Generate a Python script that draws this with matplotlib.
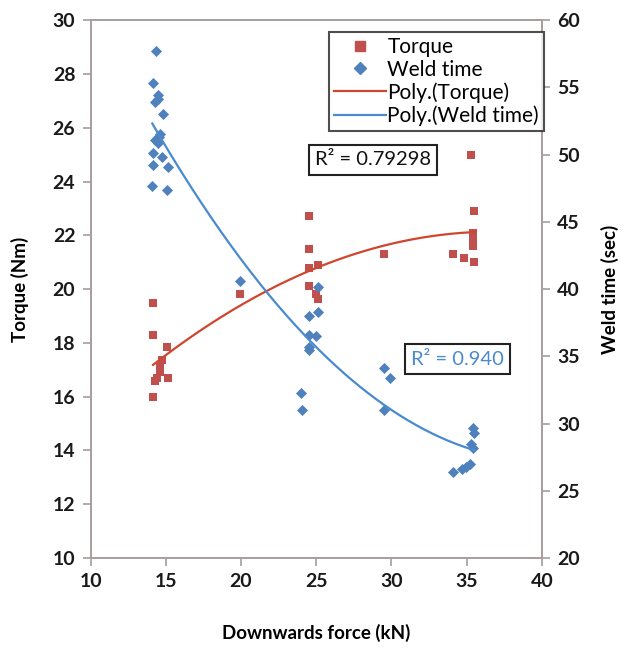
import numpy as np
import matplotlib
matplotlib.use("Agg")
import matplotlib.pyplot as plt
from matplotlib.lines import Line2D

plt.rcParams['font.family'] = ['Lato', 'DejaVu Sans']

# ---- data ----
force_torque = [14.15, 14.15, 15.1, 14.75, 14.6, 14.6, 14.4, 14.3, 15.15, 14.15,
                19.9,
                24.5, 24.5, 24.5, 25.1, 24.5, 25.0, 25.1,
                29.5,
                35.3, 35.5, 35.4, 35.4, 35.4, 34.1, 34.8, 35.5]
torque = [19.5, 18.3, 17.85, 17.35, 17.1, 16.9, 16.7, 16.6, 16.7, 16.0,
          19.8,
          22.7, 21.5, 20.8, 20.9, 20.1, 19.8, 19.65,
          21.3,
          25.0, 22.9, 22.1, 21.8, 21.6, 21.3, 21.15, 21.0]

force_weld = [14.35, 14.15, 14.5, 14.3, 14.45, 14.8, 14.6, 14.3, 14.55, 14.45,
              14.15, 14.75, 14.15, 15.15, 14.1, 15.1,
              19.9,
              25.1, 24.5, 25.1, 24.5, 25.0, 24.5, 24.55, 24.0, 24.05,
              29.5, 29.9, 29.5,
              35.4, 35.5, 35.3, 35.4, 35.25, 34.95, 34.7, 34.1]
weld_time = [57.7, 55.3, 54.4, 53.9, 54.1, 53.0, 51.5, 51.1, 51.3, 50.85,
             50.1, 49.8, 49.2, 49.1, 47.7, 47.4,
             40.6,
             40.15, 38.0, 38.3, 36.6, 36.5, 35.7, 35.5, 32.3, 31.0,
             34.1, 33.4, 31.0,
             29.7, 29.3, 28.5, 28.2, 27.0, 26.8, 26.65, 26.4]

x_ticks = [10, 15, 20, 25, 30, 35, 40]
torque_ticks = [10, 12, 14, 16, 18, 20, 22, 24, 26, 28, 30]
weld_ticks = [20, 25, 30, 35, 40, 45, 50, 55, 60]
r2_torque_label = "R² = 0.79298"
r2_weld_label = "R² = 0.940"

red = '#C0504D'
blue = '#4F81BD'
red_line = '#D0452E'
blue_line = '#4A8ACF'
spine_c = '#A89C9C'

fig = plt.figure(figsize=(6.25, 6.5), dpi=100)
ax = fig.add_axes([0.145, 0.1415, 0.722, 0.8275])
ax2 = ax.twinx()

ax.scatter(force_torque, torque, marker='s', s=38, color=red, zorder=3, linewidths=0)
ax2.scatter(force_weld, weld_time, marker='D', s=32, color=blue, zorder=3, linewidths=0)

pt = np.polyfit(force_torque, torque, 2)
xt = np.linspace(min(force_torque), max(force_torque), 200)
ax.plot(xt, np.polyval(pt, xt), color=red_line, lw=1.6, zorder=4)
pw = np.polyfit(force_weld, weld_time, 2)
xw = np.linspace(min(force_weld), max(force_weld), 200)
ax2.plot(xw, np.polyval(pw, xw), color=blue_line, lw=1.6, zorder=4)

ax.set_xlim(10, 40)
ax.set_ylim(10, 30)
ax2.set_ylim(20, 60)
ax.set_xticks(x_ticks)
ax.set_yticks(torque_ticks)
ax2.set_yticks(weld_ticks)

for a in (ax, ax2):
    for s in a.spines.values():
        s.set_color(spine_c)
        s.set_linewidth(1.2)
    a.tick_params(direction='out', length=6, width=1.2, color=spine_c,
                  labelsize=14, labelcolor='#1a1a1a', pad=5)
for lab in ax.get_xticklabels() + ax.get_yticklabels() + ax2.get_yticklabels():
    lab.set_fontweight('bold')

ax.set_xlabel("Downwards force (kN)", fontsize=13.5, fontweight='bold', labelpad=24)
ax.set_ylabel("Torque (Nm)", fontsize=13.5, fontweight='bold', labelpad=17)
ax2.set_ylabel("Weld time (sec)", fontsize=13.5, fontweight='bold', labelpad=15)

ax.text(0.626, 0.740, r2_torque_label, transform=ax.transAxes, fontsize=14.5,
        color='#111111', ha='center', va='center', zorder=6,
        bbox=dict(boxstyle='square,pad=0.3', fc='white', ec='#222222', lw=1.5))
ax.text(0.812, 0.370, r2_weld_label, transform=ax.transAxes, fontsize=14.5,
        color=blue_line, ha='center', va='center', zorder=6,
        bbox=dict(boxstyle='square,pad=0.3', fc='white', ec='#222222', lw=1.5))

handles = [Line2D([], [], marker='s', ls='none', color=red, markersize=7),
           Line2D([], [], marker='D', ls='none', color=blue, markersize=6),
           Line2D([], [], color=red_line, lw=1.6),
           Line2D([], [], color=blue_line, lw=1.6)]
labels = ["Torque", "Weld time", "Poly.(Torque)", "Poly.(Weld time)"]
leg = ax2.legend(handles, labels, loc='upper right', bbox_to_anchor=(1.005, 0.978),
                 fontsize=15, frameon=True, fancybox=False, borderpad=0.25,
                 labelspacing=0.12, handlelength=2.5, handletextpad=0.05,
                 borderaxespad=0.0)
leg.get_frame().set_edgecolor('#222222')
leg.get_frame().set_linewidth(1.5)
leg.set_zorder(10)

fig.savefig("out.png", dpi=100)
